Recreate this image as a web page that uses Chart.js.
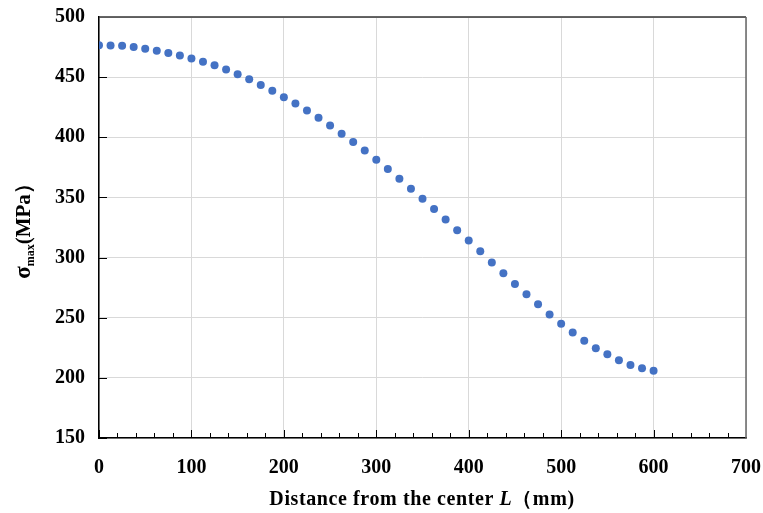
<!DOCTYPE html>
<html lang="en">
	<head>
		<meta http-equiv="content-type" content="text/html; charset=UTF-8">
		<script src="https://cdn.jsdelivr.net/npm/chart.js@4.4.1/dist/chart.umd.min.js"></script>
		<title>Stress vs distance</title>
		<style>
			html, body { margin: 0; padding: 0; background: #fff; }
			#wrap { position: relative; width: 763px; height: 513px; }
		</style>
	</head>
	<body>
		<div id="wrap">
			<canvas id="chart" width="763" height="513"></canvas>
		</div>
		<script>
			// distance from the center L (mm)
			var distance = [0, 12.5, 25, 37.5, 50, 62.5, 75, 87.5, 100, 112.5, 125, 137.5, 150, 162.5, 175, 187.5,
				200, 212.5, 225, 237.5, 250, 262.5, 275, 287.5, 300, 312.5, 325, 337.5, 350, 362.5, 375, 387.5,
				400, 412.5, 425, 437.5, 450, 462.5, 475, 487.5, 500, 512.5, 525, 537.5, 550, 562.5, 575, 587.5, 600];
			// sigma max (MPa)
			var sigmaMax = [476.5, 476.4, 476.0, 475.0, 473.6, 472.0, 470.1, 468.0, 465.4, 462.8, 459.8, 456.3, 452.5, 448.2, 443.5, 438.7,
				433.3, 428.0, 422.3, 416.2, 409.9, 403.0, 396.1, 389.1, 381.4, 373.7, 365.6, 357.2, 348.8, 340.4, 331.7, 322.8,
				314.1, 305.2, 296.0, 286.9, 278.0, 269.6, 261.1, 252.7, 245.0, 237.8, 230.8, 224.7, 219.6, 214.6, 210.7, 207.9, 205.9];
			var xTicks = [0, 100, 200, 300, 400, 500, 600, 700];
			var yTicks = [150, 200, 250, 300, 350, 400, 450, 500];

			var points = [];
			for (var i = 0; i < distance.length; i++) {
				points.push({x: distance[i], y: sigmaMax[i]});
			}

			var serif = "'Liberation Serif', 'Times New Roman', serif";

			// frame, inward tick marks and the two axis titles
			var decorations = {
				id: 'decorations',
				afterDraw: function (chart) {
					var ctx = chart.ctx;
					var a = chart.chartArea;
					var xs = chart.scales.x, ys = chart.scales.y;
					ctx.save();
					// top and right border
					ctx.lineWidth = 1.5;
					ctx.strokeStyle = '#333';
					ctx.beginPath();
					ctx.moveTo(a.left, a.top); ctx.lineTo(a.right, a.top);
					ctx.stroke();
					ctx.strokeStyle = '#666';
					ctx.beginPath();
					ctx.moveTo(a.right, a.top); ctx.lineTo(a.right, a.bottom);
					ctx.stroke();
					// inward ticks
					ctx.lineWidth = 1;
					ctx.strokeStyle = '#000';
					ctx.beginPath();
					for (var v = 0; v < 700; v += 20) {
						var px = Math.round(xs.getPixelForValue(v)) + 0.5;
						var len = (v % 100 == 0) ? 8 : 5;
						ctx.moveTo(px, a.bottom); ctx.lineTo(px, a.bottom - len);
					}
					for (var j = 0; j < yTicks.length - 1; j++) {
						var py = Math.round(ys.getPixelForValue(yTicks[j])) + 0.5;
						ctx.moveTo(a.left, py); ctx.lineTo(a.left + 8, py);
					}
					ctx.stroke();

					// x title
					ctx.fillStyle = '#000';
					ctx.textBaseline = 'alphabetic';
					ctx.letterSpacing = '0.6px';
					var p1 = 'Distance from the center ', p2 = 'L', p3 = '\uFF08mm)';
					ctx.font = 'bold 20px ' + serif;
					var w1 = ctx.measureText(p1).width, w3 = ctx.measureText(p3).width;
					ctx.font = 'italic bold 20px ' + serif;
					var w2 = ctx.measureText(p2).width;
					var total = w1 + w2 + w3;
					var sx = 422 - total / 2;
					var by = 505;
					ctx.font = 'bold 20px ' + serif;
					ctx.fillText(p1, sx, by);
					ctx.font = 'italic bold 20px ' + serif;
					ctx.fillText(p2, sx + w1, by);
					ctx.font = 'bold 20px ' + serif;
					ctx.fillText(p3, sx + w1 + w2, by);
					ctx.letterSpacing = '0px';

					// y title, rotated
					ctx.translate(30, 226);
					ctx.rotate(-Math.PI / 2);
					ctx.font = 'bold 23px ' + serif;
					var s1 = '\u03C3', s3 = '(MPa\uFF09';
					var ws1 = ctx.measureText(s1).width;
					ctx.font = 'bold 21px ' + serif;
					var ws3 = ctx.measureText(s3).width;
					ctx.font = 'bold 12px ' + serif;
					var ws2 = ctx.measureText('max').width;
					var tx = -(ws1 + ws2 + ws3) / 2;
					ctx.font = 'bold 23px ' + serif;
					ctx.fillText(s1, tx, 0);
					ctx.font = 'bold 12px ' + serif;
					ctx.fillText('max', tx + ws1, 4);
					ctx.font = 'bold 21px ' + serif;
					ctx.fillText(s3, tx + ws1 + ws2, 0);
					ctx.restore();
				}
			};

			new Chart(document.getElementById('chart'), {
				type: 'scatter',
				data: {
					datasets: [{
						label: 'sigma max',
						data: points,
						backgroundColor: '#4472C4',
						borderWidth: 0,
						pointRadius: 4,
						pointHoverRadius: 4
					}]
				},
				options: {
					responsive: false,
					animation: false,
					events: [],
					layout: { padding: { top: 17, right: 17, left: 0, bottom: 0 } },
					plugins: { legend: { display: false }, tooltip: { enabled: false } },
					scales: {
						x: {
							type: 'linear',
							min: 0,
							max: 700,
							afterBuildTicks: function (scale) {
								scale.ticks = xTicks.map(function (v) { return {value: v}; });
							},
							afterFit: function (scale) {
								scale.height = 75;
								scale.paddingLeft = 0;
								scale.paddingRight = 0;
							},
							ticks: {
								color: '#000',
								padding: 18,
								font: { family: serif, size: 20, weight: 'bold' }
							},
							grid: { color: '#d9d9d9', drawTicks: false },
							border: { color: '#000', width: 1.5 }
						},
						y: {
							min: 150,
							max: 500,
							afterBuildTicks: function (scale) {
								scale.ticks = yTicks.map(function (v) { return {value: v}; });
							},
							afterFit: function (scale) {
								scale.width = 99;
								scale.paddingTop = 0;
								scale.paddingBottom = 0;
							},
							ticks: {
								color: '#000',
								padding: 14,
								font: { family: serif, size: 20, weight: 'bold' }
							},
							grid: { color: '#d9d9d9', drawTicks: false },
							border: { color: '#000', width: 1.5 }
						}
					}
				},
				plugins: [decorations]
			});
		</script>
	</body>
</html>
